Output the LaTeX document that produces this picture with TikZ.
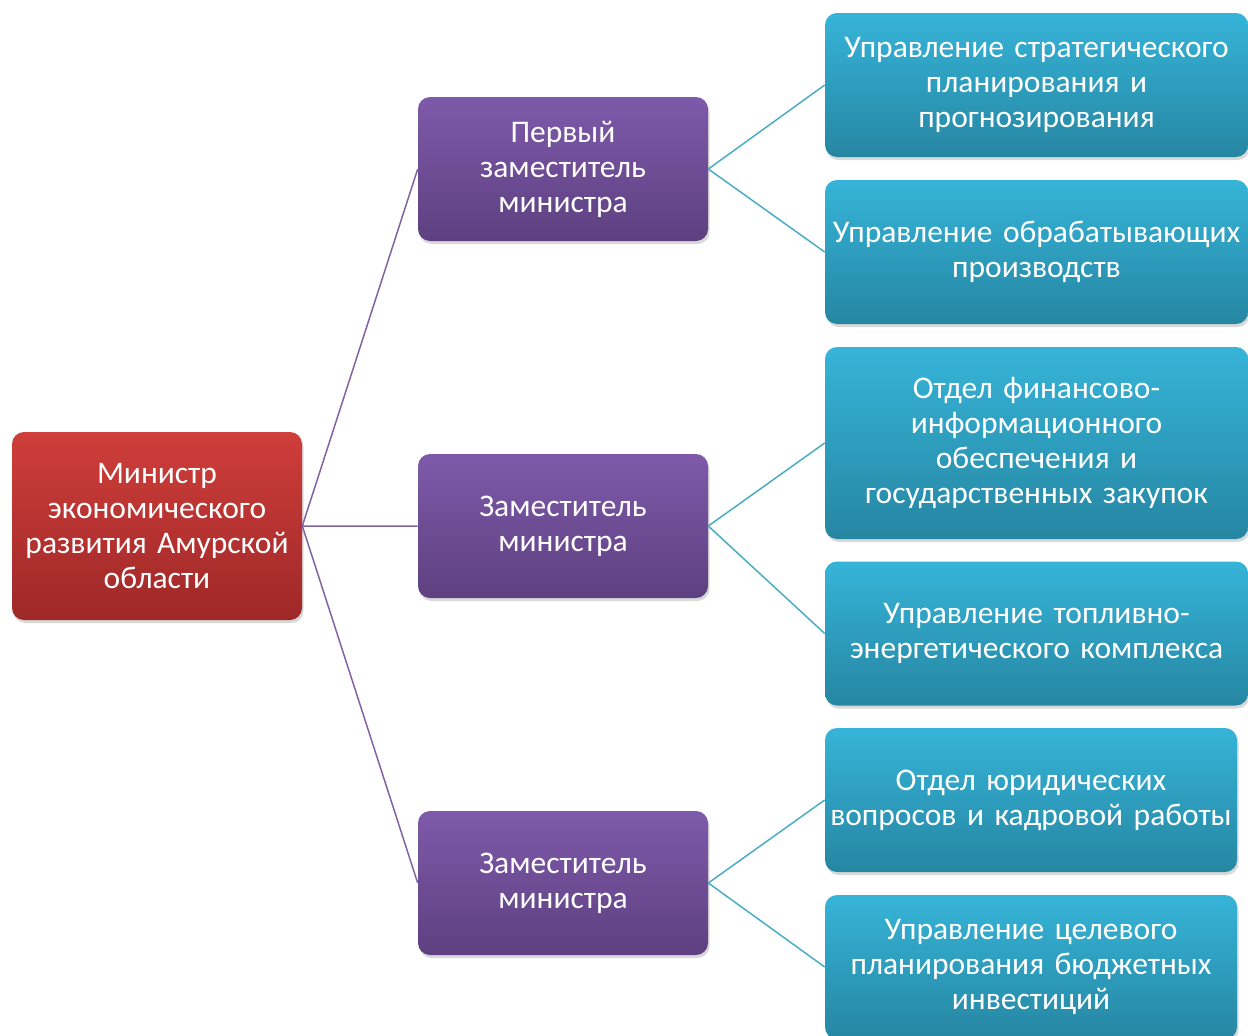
\documentclass[tikz,border=0pt]{standalone}
\usepackage{fontspec}
\setmainfont{Carlito}
\usetikzlibrary{shadows,positioning}

\definecolor{redtop}{RGB}{207,62,58}
\definecolor{redbot}{RGB}{158,40,40}
\definecolor{purtop}{RGB}{126,90,170}
\definecolor{purbot}{RGB}{94,64,128}
\definecolor{aqtop}{RGB}{54,180,216}
\definecolor{aqbot}{RGB}{38,134,162}
\definecolor{purline}{RGB}{128,100,162}
\definecolor{aqline}{RGB}{75,172,198}

\begin{document}
\begin{tikzpicture}[x=1pt, y=-1pt, semithick,
    box/.style={rounded corners=12pt, inner sep=2pt, align=center, text=white,
                font=\fontsize{31.5}{35}\selectfont,
                drop shadow={opacity=0.3, shadow xshift=1.5pt, shadow yshift=-3pt}},
    minister/.style={box, top color=redtop, bottom color=redbot, minimum width=290pt, minimum height=188pt, text width=284pt},
    deputy/.style={box, top color=purtop, bottom color=purbot, minimum width=290pt, minimum height=144pt, text width=284pt},
    dept/.style={box, top color=aqtop, bottom color=aqbot, minimum height=144pt},
    wide/.style={dept, minimum width=423pt, text width=417pt},
    narrow/.style={dept, minimum width=412pt, text width=406pt},
    purlink/.style={draw=purline, line width=1.5pt},
    aqlink/.style={draw=aqline, line width=1.5pt}]
    \useasboundingbox (0,0) rectangle (1248,1036);

    \node[minister]               (min)   at (157,526)    {Министр\\экономического\\развития Амурской\\области};

    \node[deputy]                 (dep1)  at (563,169)    {Первый\\заместитель\\министра};
    \node[deputy]                 (dep2)  at (563,526)    {Заместитель\\министра};
    \node[deputy]                 (dep3)  at (563,883)    {Заместитель\\министра};

    \node[wide]                   (strat) at (1036.5,85)  {Управление стратегического\\планирования и\\прогнозирования};
    \node[wide]                   (proc)  at (1036.5,252) {Управление обрабатывающих\\производств};
    \node[wide, minimum height=192pt] (fin) at (1036.5,443) {Отдел финансово-\\информационного\\обеспечения и\\государственных закупок};
    \node[wide]                   (fuel)  at (1036.5,633.5) {Управление топливно-\\энергетического комплекса};
    \node[narrow]                 (law)   at (1031,800)   {Отдел юридических\\вопросов и кадровой работы};
    \node[narrow]                 (invest) at (1031,967)  {Управление целевого\\планирования бюджетных\\инвестиций};

    \path[purlink] (min.east)  -- (dep1.west)
                   (min.east)  -- (dep2.west)
                   (min.east)  -- (dep3.west);
    \path[aqlink]  (dep1.east) -- (strat.west)
                   (dep1.east) -- (proc.west)
                   (dep2.east) -- (fin.west)
                   (dep2.east) -- (fuel.west)
                   (dep3.east) -- (law.west)
                   (dep3.east) -- (invest.west);
\end{tikzpicture}
\end{document}
